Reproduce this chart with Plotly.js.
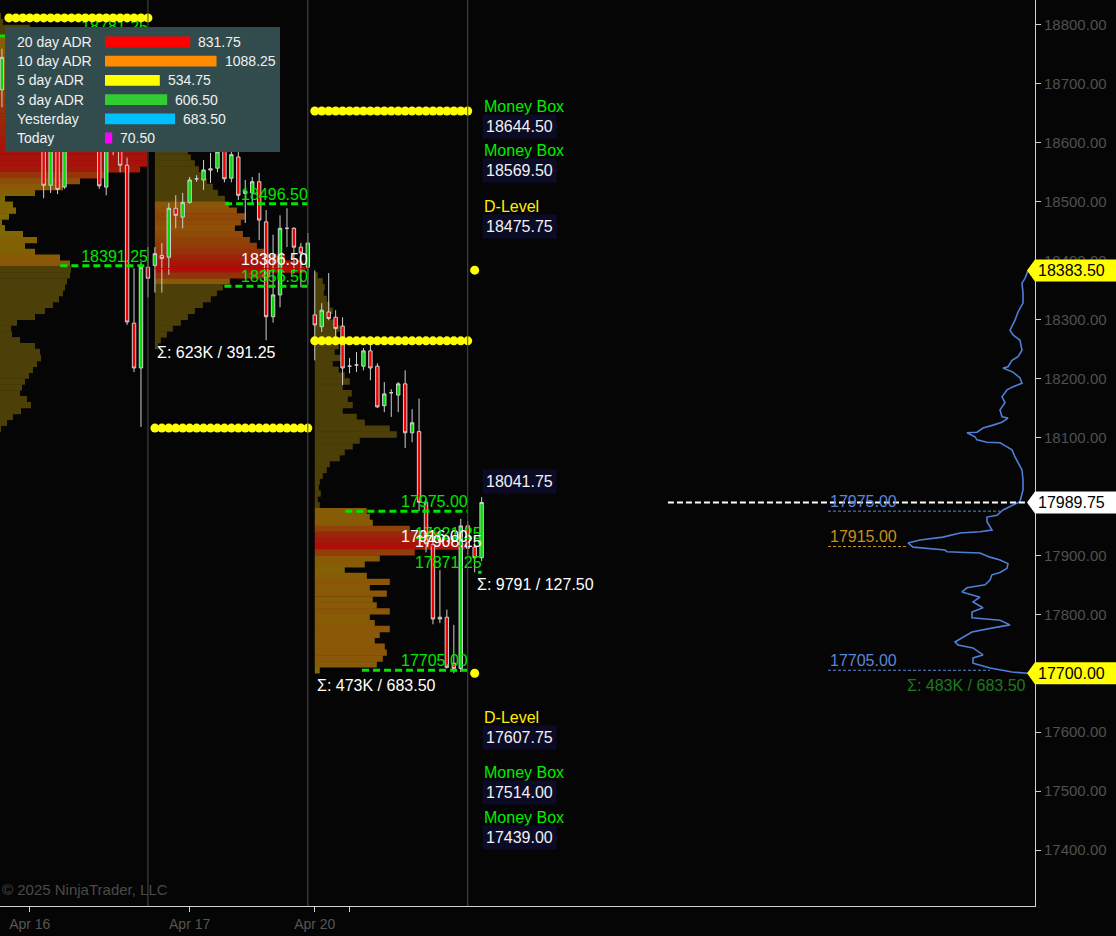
<!DOCTYPE html>
<html><head><meta charset="utf-8">
<script src="https://cdn.plot.ly/plotly-3.0.1.min.js"></script>
<style>html,body{margin:0;padding:0;background:#050505;overflow:hidden}#chart{width:1116px;height:936px}</style>
</head><body><div id="chart"></div>
<script>
// ================= DATA =================
// hourly bars (bar index)
const barN = [0,1,2,3,4,5,6,7,8,9,10,11,12,13,14,15,16,17,18,19,20,21,22,23,24,25,26,27,28,29,30,31,32,33,34,35,36,37,38,39,40,41,42,43,44,45,46,47,48,49,50,51,52,53,54,55,56,57,58,59,60,61,62,63,64,65,66,67,68,69,70];
const barOpen  = [18700,18690,18745,18720,18700,18655,18675,18620,18528,18590,18525,18610,18640,18690,18650,18620,18525,18600,18590,18562,18294,18218,18389,18392,18409,18406,18489,18474,18499,18539,18537,18556,18557,18600,18540,18576,18514,18515,18534,18466,18305,18342,18455,18455,18423,18389,18308,18288,18313,18304,18289,18221,18223,18221,18247,18221,18154,18176,18172,18191,18108,18110,17990,17918,17792,17795,17717,17708,17950,17914,17896];
const barHigh  = [18740,18760,18785,18750,18720,18690,18700,18640,18600,18610,18630,18650,18700,18720,18680,18640,18610,18630,18600,18575,18387,18398,18423,18423,18430,18498,18511,18515,18542,18545,18571,18583,18600,18648,18600,18610,18537,18542,18549,18486,18444,18477,18489,18457,18430,18447,18383.5,18328,18379,18316,18304,18235,18245,18252,18257,18226,18194,18182,18194,18214,18148,18166,17995,17925,17875,17808,17782,17962,17958,17929,17998.75];
const barLow   = [18650,18660,18710,18680,18640,18610,18600,18506,18515,18513,18522,18590,18620,18640,18600,18522,18511,18579,18550,18291,18211,18118,18338,18346,18346,18376,18455,18455,18497,18534,18520,18532,18550,18533,18533,18503,18464,18497,18435,18265,18295,18321,18423,18378,18355,18359,18231,18279,18299,18270,18189,18209,18211,18214,18197,18150,18143,18135,18143,18082,18092,17975,17905,17783,17785,17708,17700,17702,17900,17871.25,17890];
const barClose = [18690,18745,18720,18700,18655,18675,18620,18528,18590,18521,18610,18640,18690,18650,18620,18527,18600,18590,18562,18296,18218,18389,18370,18412,18404,18489,18477,18499,18537,18539,18554,18554,18585,18539,18580,18511,18518,18534,18469,18305,18342,18455,18455,18423,18413,18430,18291,18316,18302,18285,18218,18221,18223,18247,18218,18152,18174,18176,18191,18108,18125,17990,17920,17792,17795,17710,17708,17950,17912,17896,17989.75];

// sessions
const sessStartN = [0, 23, 46, 69];
const sessEndN   = [22, 45, 68, 70];
const sessLabels = ['Apr 16', 'Apr 17', 'Apr 20', ''];
const tickN      = [5, 28, 46, 51];
const sessStats  = ['Σ: 674K / 745.00', 'Σ: 623K / 391.25', 'Σ: 473K / 683.50', 'Σ: 9791 / 127.50'];

// volume profiles per session (10-pt bins, from top price downward; relative volume)
const prof1Top = 18855;
const prof1Vol = [3,3,4,5,6,8,35,40,45,50,60,70,75,80,85,90,95,100,105,110,115,120,125,130,135,140,148,152,152,152,145,110,85,68,40,10,18,21,14,7,10,28,42,30,40,65,75,76,75,72,70,68,64,58,50,40,22,16,17,25,40,45,46,42,38,34,30,27,25,32,36,26,18,12,6];
const prof2Top = 18645;
const prof2Vol = [8,15,18,22,28,30,33,36,40,44,46,52,58,63,70,74,82,90,86,80,88,95,102,112,130,148,150,115,75,68,62,56,48,40,33,26,18,12,6,3];
const prof3Top = 18375;
const prof3Vol = [3,8,10,9,12,15,18,14,20,25,22,28,24,20,26,18,24,30,35,28,37,33,38,28,42,50,75,82,45,38,30,25,15,12,8,5,4,6,3,5,52,55,58,95,125,140,150,100,65,50,30,52,75,55,72,58,62,75,55,60,75,65,60,70,72,68,62,5];

// value areas / POC per session
const vaHigh   = [18781.25, 18496.50, 17975.00, 17921.25];
const vaLow    = [18391.25, 18356.50, 17705.00, 17871.25];
const vahFromN = [0.7, 33.1, 50.4, 69.5];
const valFromN = [9.4, 33.0, 52.8, 69.5];
const pocPrice = [null, 18386.50, 17916.00, 17908.25];

// projected range dots (yellow)
const dotStartN = [2, 23, 46, 69];
const dotHigh = [18812, 18861, 18654, 18384];
const dotLow  = [null, 18116, 18264, 17700];

// Money box / D-level labels
const lvlNames  = ['Money Box', 'Money Box', 'D-Level', '', 'D-Level', 'Money Box', 'Money Box'];
const lvlPrices = [18644.50, 18569.50, 18475.75, 18041.75, 17607.75, 17514.00, 17439.00];

// composite profile (right side), volume vs price
const cpPrice = [18383.5,18370,18362,18345,18328,18313,18299,18282,18274,18265,18248,18237,18231,18220,18218,18211,18201,18192,18186,18181,18169,18159,18147,18135,18133,18126,18121,18116,18109,18108,18101,18096,18092,18091,18084,18079,18067,18057,18045,18028,18011,17991,17985,17977,17968,17965,17957,17943,17940,17938,17931,17926,17921,17914,17909,17906,17904,17897,17892,17886,17878,17871,17867,17858,17850,17845,17838,17829,17821,17811,17804,17794,17790,17782,17777,17770,17761,17753,17748,17743,17731,17726,17717,17709,17702,17700];
const cpVol   = [2,5,8,7,7,12,15,20,17,10,8,12,18,22,27,17,10,8,17,23,28,25,30,28,22,28,37,47,53,63,55,53,43,30,23,18,15,12,8,7,7,10,18,27,33,43,43,38,50,70,87,110,122,117,85,83,50,40,30,22,23,30,38,40,45,63,68,50,57,47,58,58,30,20,37,58,67,75,72,57,47,57,57,40,18,2];
const cpLevels = [17975.00, 17915.00, 17705.00];
const cpLevelEnd = [30, 122, 40];
const cpLevelColors = ['#5a86d6', '#c98f1c', '#5a86d6'];
const cpStat = 'Σ: 483K / 683.50';

// price flags on axis
const flagPrices = [18383.50, 17989.75, 17700.00];
const flagColors = ['#ffff00', '#ffffff', '#ffff00'];
const lastPrice = 17989.75;

// ADR box
const adrNames  = ['20 day ADR', '10 day ADR', '5 day ADR', '3 day ADR', 'Yesterday', 'Today'];
const adrValues = [831.75, 1088.25, 534.75, 606.50, 683.50, 70.50];
const adrColors = ['#ff0000', '#ff8c00', '#ffff00', '#32cd32', '#00bfff', '#ff00ff'];

// ================= STYLE / BUILD =================
const FONT = 'Liberation Sans, Arial, sans-serif';
const PX_PER_BAR = 6.95;
const volScale = 1 / PX_PER_BAR;
const PLOT_H = 906, PLOT_W = 1035;

function mix(a, b, t) { return a.map((v, i) => Math.round(v + (b[i] - v) * t)); }
const stops = [[0, [122,108,0]], [0.5, [140,86,8]], [0.8, [152,42,10]], [1, [168,18,10]]];
function vaColor(t) {
  for (let i = 1; i < stops.length; i++) {
    if (t <= stops[i][0]) {
      const [t0, c0] = stops[i-1], [t1, c1] = stops[i];
      const c = mix(c0, c1, (t - t0) / (t1 - t0));
      return `rgb(${c[0]},${c[1]},${c[2]})`;
    }
  }
  return 'rgb(168,18,10)';
}
const outColor = 'rgb(76,63,8)';

const traces = [];
function profileTrace(top, vols, sIdx) {
  const y = vols.map((_, i) => top - 10 * i);
  const mx = Math.max(...vols);
  const cols = vols.map((v, i) => (y[i] <= vaHigh[sIdx] && y[i] >= vaLow[sIdx]) ? vaColor(v / mx) : outColor);
  return {type: 'bar', orientation: 'h', y: y, x: vols.map(v => v * volScale), base: sessStartN[sIdx],
    width: 10.8, marker: {color: cols, line: {width: 0}}, hoverinfo: 'skip', showlegend: false};
}
traces.push(profileTrace(prof1Top, prof1Vol, 0));
traces.push(profileTrace(prof2Top, prof2Vol, 1));
traces.push(profileTrace(prof3Top, prof3Vol, 2));

traces.push({type: 'candlestick', x: barN, open: barOpen, high: barHigh, low: barLow, close: barClose,
  increasing: {line: {color: '#cfcfcf', width: 1}, fillcolor: '#00dd00'},
  decreasing: {line: {color: '#cfcfcf', width: 1}, fillcolor: '#ee0000'},
  whiskerwidth: 0, hoverinfo: 'skip', showlegend: false});

// POC red lines
pocPrice.forEach((p, i) => {
  if (p === null || i === 3) return;
  traces.push({type: 'scatter', mode: 'lines', x: [sessStartN[i], sessEndN[i]], y: [p, p],
    line: {color: '#c80000', width: 1}, hoverinfo: 'skip', showlegend: false});
});
// VA dashed lines
for (let i = 0; i < 4; i++) {
  [[vaHigh[i], vahFromN[i]], [vaLow[i], valFromN[i]]].forEach(([p, from]) => {
    traces.push({type: 'scatter', mode: 'lines', x: [from, sessEndN[i]], y: [p, p],
      line: {color: '#00e600', width: 3, dash: '7px,4px'}, hoverinfo: 'skip', showlegend: false});
  });
}
// level labels as text (below the dots)
const lblX = [], lblY = [], lblT = [], lblC = [];
for (let i = 0; i < 4; i++) {
  lblX.push(sessEndN[i], sessEndN[i]); lblY.push(vaHigh[i], vaLow[i]);
  lblT.push(vaHigh[i].toFixed(2), vaLow[i].toFixed(2)); lblC.push('#00e600', '#00e600');
  if (pocPrice[i] !== null) { lblX.push(sessEndN[i]); lblY.push(pocPrice[i]); lblT.push(pocPrice[i].toFixed(2)); lblC.push('#ffffff'); }
}
traces.push({type: 'scatter', mode: 'text', x: lblX, y: lblY, text: lblT, textposition: 'top left',
  textfont: {family: FONT, size: 16, color: lblC}, cliponaxis: false, hoverinfo: 'skip', showlegend: false});

// yellow dots
const dX = [], dY = [];
for (let i = 0; i < 4; i++) {
  for (let n = dotStartN[i]; n <= sessEndN[i] && n <= (i === 3 ? dotStartN[i] : sessEndN[i]); n++) {
    if (dotHigh[i] !== null) { dX.push(n); dY.push(dotHigh[i]); }
    if (dotLow[i] !== null) { dX.push(n); dY.push(dotLow[i]); }
  }
}
traces.push({type: 'scatter', mode: 'markers', x: dX, y: dY, marker: {color: '#ffff00', size: 9, line: {width: 0}},
  hoverinfo: 'skip', showlegend: false});

// composite profile
traces.push({type: 'scatter', mode: 'lines', xaxis: 'x2', yaxis: 'y', x: cpVol, y: cpPrice,
  line: {color: '#4f7fd6', width: 1.6}, hoverinfo: 'skip', showlegend: false});

// dummy for ADR axes
traces.push({type: 'scatter', mode: 'markers', xaxis: 'x3', yaxis: 'y3', x: [0], y: [0],
  marker: {opacity: 0}, hoverinfo: 'skip', showlegend: false});

// ---------- shapes ----------
const shapes = [];
sessEndN.slice(0, 3).forEach(n => shapes.push({type: 'line', xref: 'x', yref: 'paper', x0: n, x1: n, y0: 0, y1: 1,
  line: {color: '#4a4a4a', width: 1}, layer: 'above'}));
shapes.push({type: 'line', xref: 'x', yref: 'y', x0: 96.8, x1: 148.5, y0: lastPrice, y1: lastPrice,
  line: {color: '#ffffff', width: 2, dash: '6px,3px'}, layer: 'above'});
cpLevels.forEach((p, i) => shapes.push({type: 'line', xref: 'x2', yref: 'y', x0: 202, x1: cpLevelEnd[i], y0: p, y1: p,
  line: {color: cpLevelColors[i], width: 1, dash: '3px,2px'}, layer: 'above'}));
// legend box
shapes.push({type: 'rect', xref: 'paper', yref: 'paper', x0: 5 / PLOT_W, x1: 280 / PLOT_W, y0: 1 - 152 / PLOT_H, y1: 1 - 27 / PLOT_H,
  fillcolor: 'rgb(50,76,78)', line: {width: 0}, layer: 'above'});
adrValues.forEach((v, i) => shapes.push({type: 'rect', xref: 'x3', yref: 'y3', x0: 0, x1: v, y0: i - 0.28, y1: i + 0.28,
  fillcolor: adrColors[i], line: {width: 0}, layer: 'above'}));
// price flags
const hh = 11 * (18842.4 - 17305) / PLOT_H;
flagPrices.forEach((p, i) => {
  const xa = 1027 / PLOT_W, xb = 1, xc = 1116 / PLOT_W;
  shapes.push({type: 'path', xref: 'paper', yref: 'y',
    path: `M ${xa},${p} L ${xb},${p + hh} L ${xc},${p + hh} L ${xc},${p - hh} L ${xb},${p - hh} Z`,
    fillcolor: flagColors[i], line: {width: 0}, layer: 'above'});
});

// ---------- annotations ----------
const ann = [];
const sessLow = sessStartN.map((s, i) => Math.min(...barLow.slice(s, sessEndN[i] + 1)));
sessStats.forEach((t, i) => ann.push({xref: 'x', yref: 'y', x: sessStartN[i], y: sessLow[i], yshift: -12,
  xanchor: 'left', yanchor: 'middle', text: t, showarrow: false, font: {family: FONT, size: 16, color: '#ffffff'}}));
lvlPrices.forEach((p, i) => {
  if (lvlNames[i]) ann.push({xref: 'x', yref: 'y', x: 70, y: p, yshift: 10, xanchor: 'left', yanchor: 'middle',
    text: lvlNames[i], showarrow: false, font: {family: FONT, size: 16, color: lvlNames[i] === 'D-Level' ? '#ffee00' : '#00ee00'}});
  ann.push({xref: 'x', yref: 'y', x: 70, y: p, yshift: -10, xanchor: 'left', yanchor: 'middle',
    text: p.toFixed(2), showarrow: false, bgcolor: '#0b0b26', borderpad: 3, font: {family: FONT, size: 16, color: '#f2f2f2'}});
});
cpLevels.forEach((p, i) => ann.push({xref: 'x2', yref: 'y', x: 202, y: p, yshift: 10, xanchor: 'left', yanchor: 'middle',
  text: p.toFixed(2), showarrow: false, font: {family: FONT, size: 16, color: cpLevelColors[i]}}));
ann.push({xref: 'x2', yref: 'y', x: 2, y: cpPrice[cpPrice.length - 1], yshift: -12, xanchor: 'right', yanchor: 'middle',
  text: cpStat, showarrow: false, font: {family: FONT, size: 16, color: '#1c7a1c'}});
flagPrices.forEach(p => ann.push({xref: 'paper', yref: 'y', x: 1071 / PLOT_W, y: p, xanchor: 'center', yanchor: 'middle',
  text: p.toFixed(2), showarrow: false, font: {family: FONT, size: 16, color: '#000000'}}));
adrNames.forEach((t, i) => {
  ann.push({xref: 'paper', yref: 'y3', x: 15 / PLOT_W, y: i, xanchor: 'left', yanchor: 'middle', text: t,
    showarrow: false, font: {family: FONT, size: 14, color: '#f0f0f0'}});
  ann.push({xref: 'x3', yref: 'y3', x: adrValues[i], xshift: 6, y: i, xanchor: 'left', yanchor: 'middle',
    text: adrValues[i].toFixed(2), showarrow: false, font: {family: FONT, size: 14, color: '#f0f0f0'}});
});
ann.push({xref: 'paper', yref: 'paper', x: 0, y: 1 - 889 / PLOT_H, xanchor: 'left', yanchor: 'middle',
  text: '© 2025 NinjaTrader, LLC', showarrow: false, font: {family: FONT, size: 15, color: '#4a4a4a'}});

const layout = {
  width: 1116, height: 936,
  margin: {l: 0, r: 81, t: 0, b: 30, pad: 0},
  paper_bgcolor: '#050505', plot_bgcolor: '#050505',
  showlegend: false, barmode: 'overlay', dragmode: false,
  font: {family: FONT},
  xaxis: {range: [0.72, 149.6], showgrid: false, zeroline: false, showline: true, linecolor: '#d0d0d0', linewidth: 1,
    ticks: 'outside', ticklen: 5, tickcolor: '#d0d0d0', tickvals: tickN, ticktext: sessLabels,
    tickfont: {family: FONT, size: 14, color: '#555555'}, rangeslider: {visible: false}, fixedrange: true},
  xaxis2: {overlaying: 'x', anchor: 'y', range: [1030, -5], visible: false, fixedrange: true},
  yaxis: {side: 'right', range: [17305, 18842.4], showgrid: false, zeroline: false, showline: true, linecolor: '#d0d0d0',
    ticks: 'outside', ticklen: 5, tickcolor: '#d0d0d0', dtick: 100, tick0: 17400, tickformat: '.2f',
    tickfont: {family: FONT, size: 15, color: '#505050'}, fixedrange: true},
  xaxis3: {domain: [105 / PLOT_W, 280 / PLOT_W], range: [0, 175 / 0.1025], anchor: 'y3', visible: false, fixedrange: true},
  yaxis3: {domain: [1 - 147.6 / PLOT_H, 1 - 32.4 / PLOT_H], range: [5.5, -0.5], anchor: 'x3', visible: false, fixedrange: true},
  shapes: shapes, annotations: ann
};
Plotly.newPlot('chart', traces, layout, {displayModeBar: false, staticPlot: true});
</script></body></html>
